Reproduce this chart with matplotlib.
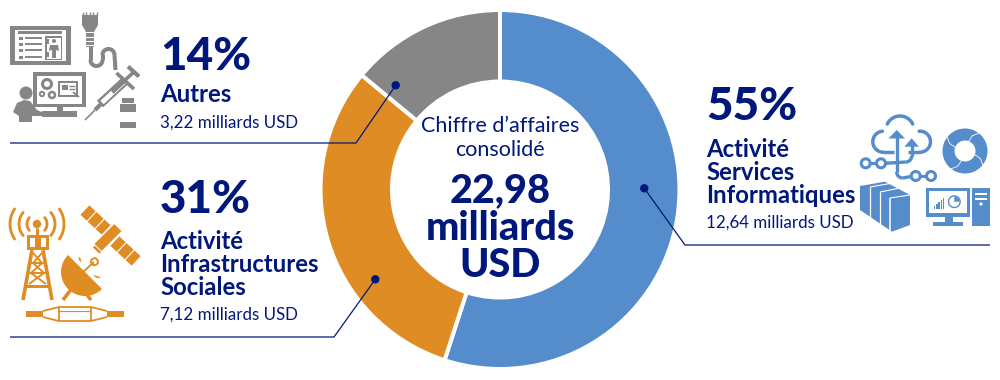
"""
Chiffre d'affaires donut with icons and leader lines
"""

import numpy as np
import matplotlib
matplotlib.use('Agg')
import matplotlib.pyplot as plt
from matplotlib.patches import Polygon, Circle, Rectangle, Wedge

plt.rcParams['font.family'] = ['Lato', 'DejaVu Sans']

shares = [55, 31, 14]
slice_colors = ['#558CCB', '#DF8C24', '#868686']
percent_labels = ['55%', '31%', '14%']
segment_names = ['Activité\nServices\nInformatiques', 'Activité\nInfrastructures\nSociales', 'Autres']
amount_labels = ['12,64 milliards USD', '7,12 milliards USD', '3,22 milliards USD']
center_title = ['Chiffre d’affaires', 'consolidé']
center_total = ['22,98', 'milliards', 'USD']

NAVY = '#00177B'
BLUE, ORANGE, GREY = slice_colors

fig = plt.figure(figsize=(10, 3.8), dpi=100)

# donut in its own axes, limits in pixels around the centre (500, 189.5)
HALF = 185
ax_pie = fig.add_axes([(500 - HALF) / 1000, 1 - (189.5 + HALF) / 380, 2 * HALF / 1000, 2 * HALF / 380])
ax_pie.pie(shares, colors=slice_colors, startangle=90, counterclock=False, radius=179.5,
           wedgeprops={'width': 71.5, 'edgecolor': 'white', 'linewidth': 2.9})
ax_pie.set_xlim(-HALF, HALF)
ax_pie.set_ylim(-HALF, HALF)

# overlay in pixel coordinates, y going down
ax = fig.add_axes([0, 0, 1, 1])
ax.set_xlim(0, 1000)
ax.set_ylim(380, 0)
ax.axis('off')
ax.patch.set_alpha(0)


def line(pts, color, lw=2.0, cap='butt', z=3):
    pts = np.array(pts, dtype=float)
    ax.plot(pts[:, 0], pts[:, 1], color=color, lw=lw, solid_capstyle=cap,
            solid_joinstyle='round', zorder=z)


def poly(pts, color, z=3):
    ax.add_patch(Polygon(pts, closed=True, fc=color, ec='none', zorder=z))


def rect(x0, y0, x1, y1, color, z=3):
    ax.add_patch(Rectangle((x0, y0), x1 - x0, y1 - y0, fc=color, ec='none', zorder=z))


def rot_rect(cx, cy, w, h, deg, color, z=3):
    a = np.radians(deg)
    ux, uy = np.cos(a), np.sin(a)
    vx, vy = -uy, ux
    pts = [(cx + sx * w / 2 * ux + sy * h / 2 * vx, cy + sx * w / 2 * uy + sy * h / 2 * vy)
           for sx, sy in [(-1, -1), (1, -1), (1, 1), (-1, 1)]]
    poly(pts, color, z)


def arc(cx, cy, r, a0, a1, color, lw=2.0, cap='round'):
    # angles run clockwise on screen because y points down
    t = np.radians(np.linspace(a0, a1, 40))
    line(np.c_[cx + r * np.cos(t), cy + r * np.sin(t)], color, lw, cap)


def dot(cx, cy, r, color, z=3):
    ax.add_patch(Circle((cx, cy), r, fc=color, ec='none', zorder=z))


def ring(cx, cy, r, color, lw=1.8):
    ax.add_patch(Circle((cx, cy), r, fc='white', ec=color, lw=lw, zorder=4))


def grey_icons():
    c = GREY
    # tablet
    rect(10, 26, 71, 65, c)
    rect(15, 30, 66, 61, 'white', 4)
    rect(18, 31, 62, 34, c, 5)
    for y in [38, 44, 50, 57]:
        rect(19, y - 1.5, 23, y + 1.5, c, 5)
        line([(25, y), (42, y)], c, 1.4, z=5)
    rect(45, 36, 62, 60, c, 5)
    rect(46.5, 37.5, 60.5, 58.5, 'white', 5)
    dot(54, 41, 2, c, 6)
    poly([(50, 45), (58, 45), (59, 51), (56, 50), (56, 58), (52, 58), (52, 50), (49, 51)], c, 6)
    rect(46.5, 39, 49, 44, c, 6)
    rect(46.5, 52, 49, 57, c, 6)
    # network plug and cable
    for x in [82.5, 86, 89.5, 93, 96.5]:
        line([(x, 12), (x, 16)], c, 1.0)
    poly([(82, 15), (98, 15), (98, 25), (94, 32), (86, 32), (82, 25)], c)
    rect(86, 33, 94, 47, c)
    for y in [37, 41, 45]:
        line([(85, y), (95, y)], 'white', 0.8, z=4)
    line([(90.5, 46), (90.5, 60)], c, 2.9)
    arc(96.5, 60, 6, 180, 0, c, 2.9, 'butt')
    line([(102.5, 60), (102.5, 55)], c, 2.9)
    arc(108.5, 55, 6, 180, 360, c, 2.9, 'butt')
    line([(114.5, 55), (115.5, 70)], c, 2.9)
    # monitor
    rect(33, 72, 86, 107, c)
    rect(37, 76, 82, 104, 'white', 4)
    rect(58, 81, 78, 97, c, 5)
    rect(60, 83, 76, 95, 'white', 5)
    rect(62, 85, 68, 90, c, 6)
    line([(69, 86), (75, 86)], c, 1, z=6)
    line([(69, 89), (75, 89)], c, 1, z=6)
    line([(73, 92), (79, 97)], c, 1.4, z=6)
    ring(47, 84, 4.5, c, 2.2)
    ring(42, 94, 2.2, c, 1.4)
    ring(52, 95, 3, c, 1.8)
    rect(57, 107, 63, 112, c)
    rect(42, 111, 77, 117, c)
    # person
    dot(26, 93, 6.5, c)
    poly([(13, 112), (17, 103), (24, 100), (30, 101), (37, 110), (44, 113), (44, 116), (32, 116),
          (32, 122), (19, 122), (19, 116)], c)
    # syringe
    line([(85, 120), (95, 110)], c, 1.2)
    line([(95, 110), (101, 104)], c, 3.0)
    line([(100, 104), (126, 80)], c, 6.5)
    line([(102, 102.5), (124, 82)], 'white', 3.4, z=4)
    line([(112, 92), (124, 81)], c, 3.4, z=5)
    line([(116.5, 73), (134, 89)], c, 2.6)
    line([(124, 81), (135, 71)], c, 2.6)
    line([(128, 66.5), (139, 76.5)], c, 3.0)
    # vial
    rect(122, 98, 134, 103, c)
    rect(120, 104, 136, 127.5, c)
    rect(120, 112, 136, 122, 'white', 4)


def orange_icons():
    c = ORANGE
    # tower with waves
    dot(37, 224, 4.2, c)
    line([(37, 228), (37, 235)], c, 2.2)
    for mid in [0, 180]:
        for r, span in [(10, 40), (18, 40), (27, 34)]:
            arc(37, 224, r, mid - span, mid + span, c, 2.0)
    rect(27, 235, 49, 250, c)
    rect(30, 238, 35, 247, 'white', 4)
    rect(41, 238, 46, 247, 'white', 4)
    line([(32, 250), (23, 300)], c, 2.6)
    line([(43, 250), (52, 300)], c, 2.6)
    line([(33, 253), (42, 263), (31, 273), (46, 284)], c, 1.4)
    line([(42, 253), (33, 263), (44, 273), (29, 284)], c, 1.4)
    line([(30, 263), (45, 263)], c, 1.4)
    line([(28, 273), (47, 273)], c, 1.4)
    line([(25, 286), (50, 286)], c, 2.2)
    # satellite
    rot_rect(95.5, 220, 29, 13, 43, c)
    rot_rect(125.5, 251, 29, 13, 43, c)
    for cx, cy in [(91.5, 216.5), (99.5, 224), (121.5, 247.5), (129.5, 255)]:
        rot_rect(cx, cy, 1.1, 14, 43, 'white', 4)
    rot_rect(108, 237.5, 30, 12, -45, 'white', 4)
    rot_rect(108, 237.5, 28, 10, -45, c, 5)
    rot_rect(97.7, 249, 9, 4.5, 43, c)
    # dish
    ax.add_patch(Wedge((85, 272), 24, 45, 225, fc=c, ec='none', zorder=3))
    poly([(70, 256), (87, 265), (101.5, 287), (88, 274)], 'white', 4)
    arc(104, 253, 25, 100, 170, c, 1.2, 'butt')
    line([(83, 272), (94, 262)], c, 1.4, z=5)
    ring(94.5, 261.7, 3.4, c, 1.4)
    line([(76, 283), (63, 300)], c, 2.6)
    line([(78, 283), (91, 300)], c, 2.6)
    # cable splice
    rect(26, 311, 43, 317, c)
    rect(107, 311, 124, 317, c)
    line([(43, 311), (59, 307), (91, 307), (107, 311)], c, 1.3)
    line([(43, 317), (59, 321), (91, 321), (107, 317)], c, 1.3)
    line([(59, 307), (59, 321)], c, 1.3)
    line([(91, 307), (91, 321)], c, 1.3)
    line([(59, 311), (91, 311)], c, 0.8)


def blue_icons():
    c = BLUE
    # cloud
    arc(883.3, 141.7, 10.5, 90, 265, c, 2.5)
    arc(900, 130, 14, 205, 335, c, 2.5)
    arc(920, 141.7, 10.5, 265, 450, c, 2.5)
    line([(883.3, 152.2), (894, 152.2)], c, 2.5)
    line([(908, 152.2), (920, 152.2)], c, 2.5)
    # arrows and circuit
    line([(896.7, 136), (896.7, 172)], c, 2.4)
    arc(902.7, 172, 6, 180, 90, c, 2.4, 'butt')
    line([(902.7, 178), (911, 176.5)], c, 2.4)
    poly([(896.7, 130), (905, 138.5), (888.5, 138.5)], c)
    line([(911.7, 144), (911.7, 156)], c, 2.4)
    arc(905.7, 156, 6, 0, 90, c, 2.4, 'butt')
    line([(905.7, 162), (885, 163.3)], c, 2.4)
    poly([(911.7, 138.3), (919, 146.7), (904.5, 146.7)], c)
    ring(865.7, 163.3, 4.5, c, 2.2)
    ring(881, 163.3, 4.5, c, 2.2)
    line([(870, 163.3), (877, 163.3)], c, 2.2)
    ring(915.7, 176, 4.5, c, 2.2)
    ring(931, 176, 4.5, c, 2.2)
    line([(920, 176), (927, 176)], c, 2.2)
    # circular arrows
    cx, cy = 965, 151
    ax.add_patch(Wedge((cx, cy), 22.5, 0, 360, width=12, fc=c, ec='none', zorder=3))
    for a0 in [-70, 20, 110, 200]:
        a = np.radians(a0)
        b = a + np.radians(20)
        pts = [(cx + 10 * np.cos(a), cy + 10 * np.sin(a)),
               (cx + 17 * np.cos(a + 0.1), cy + 17 * np.sin(a + 0.1)),
               (cx + 24 * np.cos(b), cy + 24 * np.sin(b))]
        line(pts, 'white', 0.6, z=4)
    # server blocks
    poly([(860, 186), (885, 181.7), (910, 195), (910, 225), (892, 231.7), (860, 210)], c)
    line([(870, 187), (870, 218)], 'white', 0.9, z=4)
    line([(880, 192), (880, 225)], 'white', 0.9, z=4)
    line([(890, 198), (890, 231)], 'white', 1.1, z=4)
    line([(870, 187), (890, 183.5)], 'white', 0.8, z=4)
    line([(880, 192), (900, 188)], 'white', 0.8, z=4)
    line([(890, 198), (910, 195)], 'white', 0.8, z=4)
    # computer
    rect(925.7, 188, 970, 216.7, c)
    rect(929, 191, 966.7, 213, 'white', 4)
    for i, h in enumerate([3, 5, 7, 9, 11]):
        rect(934 + i * 2.2, 209 - h, 935.4 + i * 2.2, 209, c, 5)
    ax.add_patch(Wedge((954.3, 201.7), 6.5, 0, 360, width=1.4, fc=c, ec='none', zorder=5))
    ax.add_patch(Wedge((954.3, 201.7), 5.1, -90, 0, fc=c, ec='none', zorder=5))
    rect(945, 216.7, 953, 222, c)
    rect(933, 222, 963, 226, c)
    rect(972.3, 188, 990, 226, c)
    rect(975, 193, 987, 195, 'white', 4)
    rect(975, 198, 987, 200, 'white', 4)
    dot(981, 204, 1.6, 'white', 4)


grey_icons()
orange_icons()
blue_icons()

# leader lines
leaders = [[(395.7, 85.3), (356, 143), (10, 143)],
           [(375.3, 279.3), (334, 337), (10, 337)],
           [(644.3, 188.3), (685, 245), (990, 245)]]
for pts in leaders:
    line(pts, NAVY, 0.9, z=6)
    dot(pts[0][0], pts[0][1], 4.2, NAVY, 7)


# side labels, y_name is the baseline of the last line of the name
def side_label(x, y_pct, y_name, y_amount, i):
    ax.text(x, y_pct, percent_labels[i], color=NAVY, fontsize=33, fontweight='black',
            ha='left', va='baseline', zorder=8)
    ax.text(x, y_name, segment_names[i], color=NAVY, fontsize=17.2, fontweight='bold',
            ha='left', va='baseline', linespacing=1.0, zorder=8)
    ax.text(x, y_amount, amount_labels[i], color=NAVY, fontsize=12.2,
            ha='left', va='baseline', zorder=8)


side_label(160, 69.5, 102.5, 127.5, 2)
side_label(160, 213, 295, 320, 1)
side_label(706, 120.5, 203, 227.5, 0)

# centre of the donut
ax.text(500, 132, center_title[0], color=NAVY, fontsize=15.5, ha='center', va='baseline', zorder=8)
ax.text(500, 156, center_title[1], color=NAVY, fontsize=15.5, ha='center', va='baseline', zorder=8)
for label, y in zip(center_total, [202, 240, 277]):
    ax.text(500, y, label, color=NAVY, fontsize=28.5, fontweight='black', ha='center',
            va='baseline', zorder=8)

fig.savefig('out.png', dpi=100, facecolor='white')
